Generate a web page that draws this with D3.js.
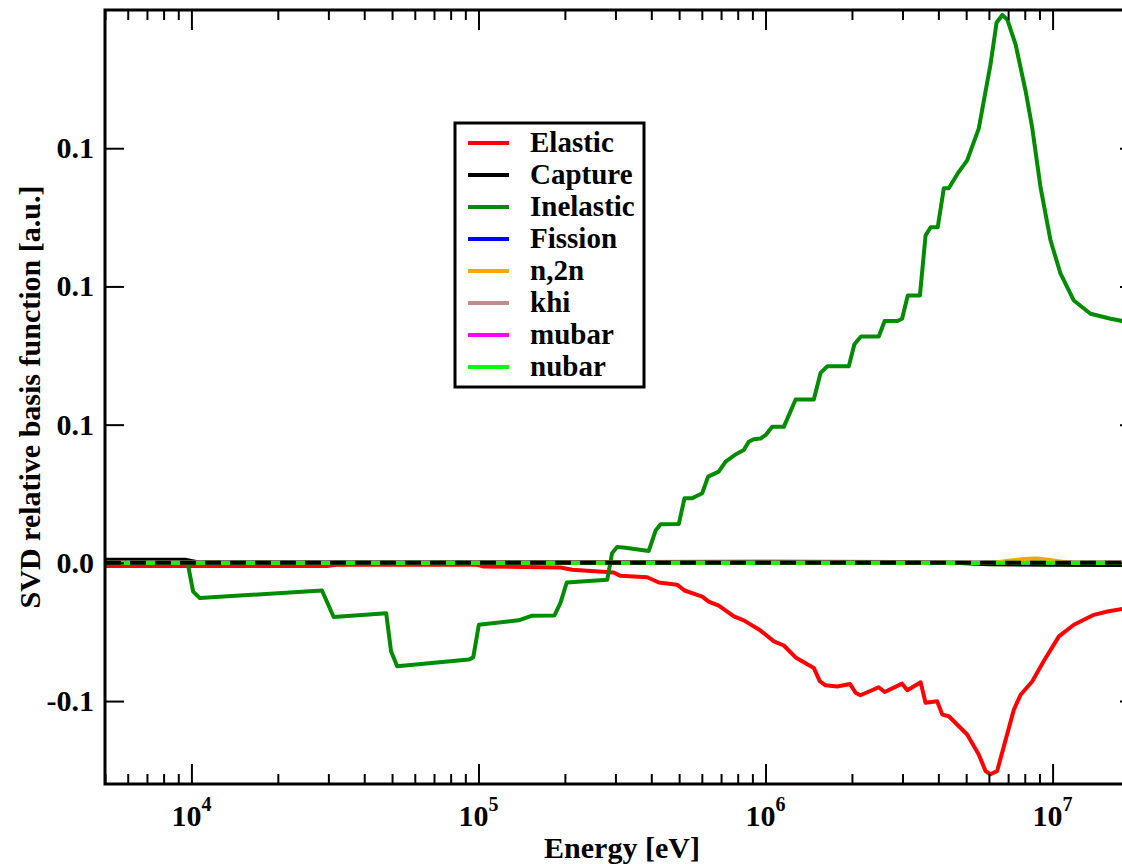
<!DOCTYPE html>
<html>
<head>
<meta charset="utf-8">
<script src="https://cdn.jsdelivr.net/npm/d3@7"></script>
<style>
  html, body { margin: 0; padding: 0; background: #fff; }
  svg { display: block; overflow: hidden; }
  text { font-family: "Liberation Serif", "Times New Roman", serif; font-weight: bold; fill: #000; }
</style>
</head>
<body>
<div id="chart"></div>
<script>
// Données
const energyInelastic = [5e3, 9.7e3, 1.014e4, 1.07e4, 2.85e4, 3.13e4, 4.77e4, 4.96e4, 5.21e4, 9.25e4, 9.59e4,
  1.003e5, 1.381e5, 1.538e5, 1.84e5, 1.93e5, 2.03e5, 2.81e5, 2.92e5, 3.04e5, 3.25e5, 3.92e5, 4.14e5, 4.31e5,
  4.99e5, 5.22e5, 5.55e5, 6.02e5, 6.31e5, 6.87e5, 7.26e5, 7.86e5, 8.40e5, 8.74e5, 9.10e5, 9.61e5, 1.0e6,
  1.055e6, 1.158e6, 1.273e6, 1.473e6, 1.555e6, 1.64e6, 1.95e6, 2.04e6, 2.15e6, 2.48e6, 2.60e6, 2.88e6, 2.99e6,
  3.13e6, 3.45e6, 3.61e6, 3.76e6, 3.98e6, 4.18e6, 4.35e6, 4.66e6, 5.04e6, 5.53e6, 5.76e6, 6.08e6, 6.38e6,
  6.68e6, 6.95e6, 7.43e6, 8.05e6, 8.49e6, 9.08e6, 9.84e6, 1.066e7, 1.186e7, 1.356e7, 1.592e7, 1.753e7, 2e7];
const inelastic = [0, 0, -0.0104, -0.0127, -0.0100, -0.0196, -0.0182, -0.0320, -0.0374, -0.0350, -0.0342,
  -0.0224, -0.0208, -0.0191, -0.0190, -0.0145, -0.0071, -0.0061, 0.0035, 0.0057, 0.0055, 0.0043, 0.0117, 0.0140,
  0.0141, 0.0234, 0.0234, 0.0252, 0.0312, 0.0330, 0.0366, 0.0392, 0.0408, 0.0438, 0.0447, 0.0450, 0.0462,
  0.0492, 0.0492, 0.0591, 0.0591, 0.0687, 0.0711, 0.0711, 0.0791, 0.0819, 0.0819, 0.0875, 0.0875, 0.0883,
  0.0967, 0.0967, 0.1184, 0.1214, 0.1214, 0.1355, 0.1355, 0.1407, 0.1456, 0.1571, 0.1671, 0.1804, 0.1954,
  0.1982, 0.1966, 0.1876, 0.1708, 0.1575, 0.1358, 0.1166, 0.1046, 0.0949, 0.0901, 0.0883, 0.0875, 0.0872];

const energyElastic = [5e3, 2.97e4, 3.2e4, 9.9e4, 1.043e5, 1.93e5, 2.12e5, 2.96e5, 3.12e5, 3.87e5, 4.25e5,
  4.92e5, 5.22e5, 6.02e5, 6.34e5, 6.87e5, 7.76e5, 8.40e5, 9.61e5, 1.07e6, 1.158e6, 1.273e6, 1.473e6, 1.545e6,
  1.618e6, 1.778e6, 1.968e6, 2.06e6, 2.14e6, 2.48e6, 2.60e6, 2.99e6, 3.12e6, 3.47e6, 3.61e6, 3.96e6, 4.13e6,
  4.35e6, 5.04e6, 5.53e6, 5.84e6, 6.08e6, 6.41e6, 7.33e6, 7.74e6, 8.49e6, 9.33e6, 1.052e7, 1.186e7, 1.393e7,
  1.552e7, 1.75e7, 2e7];
const elastic = [-0.0011, -0.0011, -0.0007, -0.0007, -0.0013, -0.0017, -0.0025, -0.0035, -0.0047, -0.0052, -0.0071,
  -0.0079, -0.0100, -0.0122, -0.0140, -0.0155, -0.0194, -0.0208, -0.0245, -0.0284, -0.0299, -0.0342, -0.0380, -0.0428,
  -0.0443, -0.0447, -0.0438, -0.0470, -0.0479, -0.0450, -0.0467, -0.0437, -0.0461, -0.0432, -0.0506, -0.0501, -0.0549,
  -0.0555, -0.0621, -0.0693, -0.0753, -0.0765, -0.0753, -0.0531, -0.0477, -0.0429, -0.0354, -0.0266, -0.0224, -0.0188,
  -0.0176, -0.0167, -0.0163];

const energyCapture = [5e3, 9.5e3, 1.05e4, 1e5, 1e6, 3e6, 4.5e6, 6e6, 1e7, 2e7];
const capture = [0.0011, 0.0011, 0.0002, 0.0002, 0.0004, 0.0003, 0, -0.0005, -0.0007, -0.0008];

const energyN2n = [5e3, 6.2e6, 7e6, 8e6, 8.8e6, 9.8e6, 1.15e7, 2e7];
const n2n = [0, 0, 0.0008, 0.0014, 0.0016, 0.0010, 0, 0];

const energyFlat = [5e3, 2e7];
const flatZero = [0, 0];

const seriesNames = ["Elastic", "Capture", "Inelastic", "Fission", "n,2n", "khi", "mubar", "nubar"];
const seriesColors = ["#ff0000", "#000000", "#008b00", "#0000ff", "#ffa500", "#bc8f8f", "#ff00ff", "#00ff00"];

const xMajorTicks = [1e4, 1e5, 1e6, 1e7];
const xTickExponents = ["4", "5", "6", "7"];
const yTickValues = [-0.05, 0, 0.05, 0.1, 0.15];
const yTickLabels = ["-0.1", "0.0", "0.1", "0.1", "0.1"];

// Dimensions
const width = 1122;
const height = 864;
const margin = { top: 10, right: -17, bottom: 80, left: 105 };

const x = d3.scaleLog()
  .domain([5e3, 2e7])
  .range([margin.left, width - margin.right]);

const y = d3.scaleLinear()
  .domain([-0.08, 0.2])
  .range([height - margin.bottom, margin.top]);

const svg = d3.select("#chart").append("svg")
  .attr("width", width)
  .attr("height", height)
  .attr("viewBox", [0, 0, width, height]);

svg.append("defs").append("clipPath").attr("id", "plot-clip")
  .append("rect")
  .attr("x", margin.left).attr("y", margin.top)
  .attr("width", x.range()[1] - margin.left)
  .attr("height", y.range()[0] - margin.top);

// Séries
const line = d3.line().x(d => x(d[0])).y(d => y(d[1]));
const pairs = (xs, ys) => xs.map((v, i) => [v, ys[i]]);

const series = [
  { name: "Elastic", data: pairs(energyElastic, elastic) },
  { name: "Inelastic", data: pairs(energyInelastic, inelastic) },
  { name: "Capture", data: pairs(energyCapture, capture) },
  { name: "Fission", data: pairs(energyFlat, flatZero) },
  { name: "khi", data: pairs(energyFlat, flatZero) },
  { name: "mubar", data: pairs(energyFlat, flatZero) },
  { name: "n,2n", data: pairs(energyN2n, n2n) },
  { name: "nubar", data: pairs(energyFlat, flatZero) }
];

const plot = svg.append("g").attr("clip-path", "url(#plot-clip)");

plot.selectAll("path.series")
  .data(series)
  .join("path")
  .attr("class", "series")
  .attr("fill", "none")
  .attr("stroke", d => seriesColors[seriesNames.indexOf(d.name)])
  .attr("stroke-width", 4)
  .attr("stroke-linejoin", "round")
  .attr("d", d => line(d.data));

// ligne zéro en tirets
plot.append("path")
  .attr("fill", "none")
  .attr("stroke", "#000")
  .attr("stroke-width", 4)
  .attr("stroke-dasharray", "16,9")
  .attr("d", line(pairs(energyFlat, flatZero)));

// Axes (graduations vers l'intérieur)
const xMinorTicks = [];
[1e3, 1e4, 1e5, 1e6, 1e7].forEach(dec => {
  for (let k = 2; k <= 9; k++) {
    const v = k * dec;
    if (v >= 5e3 && v <= 2e7) xMinorTicks.push(v);
  }
});

const x0 = x.range()[0], x1 = x.range()[1];
const y0 = y.range()[0], y1 = y.range()[1];

function styleAxis(g) {
  g.select(".domain").remove();
  g.selectAll(".tick line").attr("stroke", "#000").attr("stroke-width", 2);
}

svg.append("g")
  .attr("transform", `translate(0,${y0})`)
  .call(d3.axisBottom(x).tickValues(xMajorTicks).tickSize(-20).tickFormat(""))
  .call(styleAxis);
svg.append("g")
  .attr("transform", `translate(0,${y0})`)
  .call(d3.axisBottom(x).tickValues(xMinorTicks).tickSize(-10).tickFormat(""))
  .call(styleAxis);
svg.append("g")
  .attr("transform", `translate(0,${y1})`)
  .call(d3.axisTop(x).tickValues(xMajorTicks).tickSize(-20).tickFormat(""))
  .call(styleAxis);
svg.append("g")
  .attr("transform", `translate(0,${y1})`)
  .call(d3.axisTop(x).tickValues(xMinorTicks).tickSize(-10).tickFormat(""))
  .call(styleAxis);
svg.append("g")
  .attr("transform", `translate(${x0},0)`)
  .call(d3.axisLeft(y).tickValues(yTickValues).tickSize(-19).tickFormat(""))
  .call(styleAxis);
svg.append("g")
  .attr("transform", `translate(${x1},0)`)
  .call(d3.axisRight(y).tickValues(yTickValues).tickSize(-19).tickFormat(""))
  .call(styleAxis);

// cadre
svg.append("rect")
  .attr("x", x0).attr("y", y1)
  .attr("width", x1 - x0).attr("height", y0 - y1)
  .attr("fill", "none")
  .attr("stroke", "#000")
  .attr("stroke-width", 3);

// Étiquettes des graduations
svg.append("g")
  .selectAll("text")
  .data(yTickValues)
  .join("text")
  .attr("x", x0 - 11)
  .attr("y", d => y(d) + 10)
  .attr("text-anchor", "end")
  .attr("font-size", 30)
  .text((d, i) => yTickLabels[i]);

const xLabels = svg.append("g")
  .selectAll("text")
  .data(xMajorTicks)
  .join("text")
  .attr("x", d => x(d))
  .attr("y", 826)
  .attr("text-anchor", "middle")
  .attr("font-size", 30);
xLabels.append("tspan").text("10");
xLabels.append("tspan")
  .attr("font-size", 20)
  .attr("dy", -15)
  .text((d, i) => xTickExponents[i]);

// Titres des axes
svg.append("text")
  .attr("x", (x0 + x1) / 2)
  .attr("y", 858)
  .attr("text-anchor", "middle")
  .attr("font-size", 30)
  .text("Energy [eV]");

svg.append("text")
  .attr("transform", `translate(40,${(y0 + y1) / 2}) rotate(-90)`)
  .attr("text-anchor", "middle")
  .attr("font-size", 30)
  .text("SVD relative basis function [a.u.]");

// Légende
const legend = svg.append("g");
legend.append("rect")
  .attr("x", 455).attr("y", 123)
  .attr("width", 189).attr("height", 264)
  .attr("fill", "#fff")
  .attr("stroke", "#000")
  .attr("stroke-width", 3);

const rows = legend.selectAll("g.row")
  .data(seriesNames)
  .join("g")
  .attr("class", "row")
  .attr("transform", (d, i) => `translate(0,${143 + i * 32})`);

rows.append("line")
  .attr("x1", 468).attr("x2", 509)
  .attr("stroke", (d, i) => seriesColors[i])
  .attr("stroke-width", 4);

rows.append("text")
  .attr("x", 530)
  .attr("y", 9)
  .attr("font-size", 29)
  .text(d => d);
</script>
</body>
</html>
